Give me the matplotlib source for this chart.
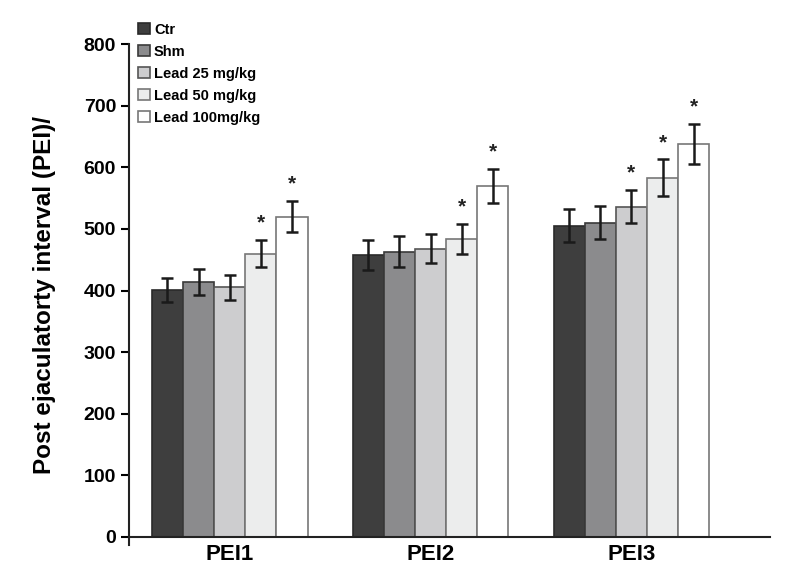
import numpy as np
import matplotlib.pyplot as plt

groups = ['PEI1', 'PEI2', 'PEI3']
series = ['Ctr', 'Shm', 'Lead 25 mg/kg', 'Lead 50 mg/kg', 'Lead 100mg/kg']
means = {
    'Ctr':           [401, 458, 505],
    'Shm':           [414, 463, 510],
    'Lead 25 mg/kg': [405, 468, 536],
    'Lead 50 mg/kg': [460, 484, 583],
    'Lead 100mg/kg': [520, 570, 638],
}
errs = {
    'Ctr':           [20, 24, 27],
    'Shm':           [21, 25, 27],
    'Lead 25 mg/kg': [20, 24, 27],
    'Lead 50 mg/kg': [22, 24, 30],
    'Lead 100mg/kg': [25, 28, 33],
}
# significance stars per series/group
stars = {
    'Ctr':           [False, False, False],
    'Shm':           [False, False, False],
    'Lead 25 mg/kg': [False, False, True],
    'Lead 50 mg/kg': [True, True, True],
    'Lead 100mg/kg': [True, True, True],
}

colors = ['#3e3e3e', '#8b8b8d', '#cdcdcf', '#eceded', '#ffffff']
edges = ['#2a2a2a', '#3a3a3a', '#555555', '#777777', '#777777']

plt.rcParams['font.family'] = ['Liberation Sans', 'DejaVu Sans']
plt.rcParams['font.weight'] = 'bold'

fig = plt.figure(figsize=(7.98, 5.73), dpi=100)
ax = fig.add_axes([0.162, 0.049, 0.803, 0.874])

x = np.arange(len(groups))
w = 0.155
for i, s in enumerate(series):
    pos = x + (i - 2) * w
    ax.bar(pos, means[s], w, color=colors[i], edgecolor=edges[i], linewidth=1.2,
           label=s, zorder=2)
    ax.errorbar(pos, means[s], yerr=errs[s], fmt='none', ecolor='#1a1a1a',
                elinewidth=1.8, capsize=4.5, capthick=1.8, zorder=3)
    for j in range(len(groups)):
        if stars[s][j]:
            ax.text(pos[j], means[s][j] + errs[s][j] + 12, '*', ha='center',
                    va='bottom', fontsize=15, color='#222222')

ax.set_xlim(-0.5, 2.69)
ax.set_ylim(-13, 800)
ax.set_yticks(np.arange(0, 801, 100))
ax.set_xticks(x)
ax.set_xticklabels(groups)
ax.tick_params(axis='x', length=0, pad=5, labelsize=16)
ax.tick_params(axis='y', length=6, width=1.5, direction='out', labelsize=14)
for lbl in ax.get_xticklabels() + ax.get_yticklabels():
    lbl.set_fontweight('bold')

ax.spines['top'].set_visible(False)
ax.spines['right'].set_visible(False)
ax.spines['bottom'].set_position(('data', 0))
ax.spines['left'].set_linewidth(1.5)
ax.spines['bottom'].set_linewidth(1.5)
ax.spines['left'].set_color('#222222')
ax.spines['bottom'].set_color('#222222')

ax.set_ylabel('Post ejaculatorty interval (PEI)/', fontsize=17.5, fontweight='bold',
              labelpad=20)

leg = ax.legend(loc='upper left', bbox_to_anchor=(0.0, 1.06), frameon=False,
                prop={'size': 10.5, 'weight': 'bold'}, handlelength=0.8,
                handleheight=0.8, handletextpad=0.3, labelspacing=0.55,
                borderaxespad=0.2)

fig.savefig('out.png', dpi=100)
